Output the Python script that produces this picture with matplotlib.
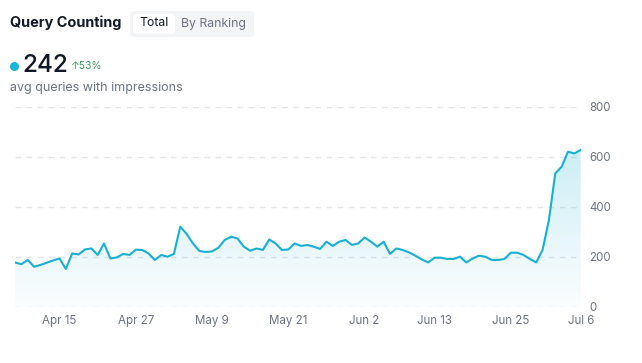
import numpy as np
import pandas as pd
import matplotlib
matplotlib.use('Agg')
import matplotlib.pyplot as plt
import matplotlib.dates as mdates
from matplotlib.colors import LinearSegmentedColormap
from matplotlib.patches import FancyBboxPatch
from matplotlib.lines import Line2D

# daily "avg queries with impressions", Apr 8 -> Jul 6
queries = [177, 170, 187, 160, 167, 176, 185, 193, 151, 213,
           209, 229, 233, 207, 253, 193, 197, 211, 207, 228,
           227, 213, 187, 207, 200, 211, 320, 291, 253, 223,
           219, 221, 236, 267, 280, 273, 240, 224, 233, 227,
           269, 253, 227, 229, 253, 243, 247, 240, 231, 260,
           243, 260, 267, 247, 253, 277, 260, 240, 260, 211,
           233, 227, 217, 204, 189, 177, 196, 196, 191, 191,
           200, 177, 193, 204, 200, 187, 187, 191, 216, 216,
           207, 191, 177, 227, 347, 533, 560, 620, 613, 627]
dates = pd.date_range('2024-04-08', periods=len(queries), freq='D')

tick_dates = ['2024-04-15', '2024-04-27', '2024-05-09', '2024-05-21',
              '2024-06-02', '2024-06-13', '2024-06-25', '2024-07-06']
tick_labels = ['Apr 15', 'Apr 27', 'May 9', 'May 21', 'Jun 2', 'Jun 13', 'Jun 25', 'Jul 6']
y_ticks = [0, 200, 400, 600, 800]

LINE = '#18b0d2'
GRAY = '#6b7280'
W, H = 642, 363

plt.rcParams['font.family'] = ['Inter', 'DejaVu Sans']

fig = plt.figure(figsize=(W / 100, H / 100), dpi=100)


def px(x, y):
    return x / W, 1 - y / H


ax = fig.add_axes([15 / W, (H - 306.7) / H, 565.7 / W, 200 / H])
ax.plot(dates, queries, color=LINE, lw=1.5, zorder=3, solid_joinstyle='round')

# gradient area under the line
poly = ax.fill_between(dates, queries, 0, color='none', lw=0)
cmap = LinearSegmentedColormap.from_list(
    'fade', [(0.09, 0.69, 0.82, 0.02), (0.09, 0.69, 0.82, 0.27)])
x0, x1 = mdates.date2num(dates[0]), mdates.date2num(dates[-1])
im = ax.imshow(np.linspace(0, 1, 256).reshape(-1, 1), extent=[x0, x1, 0, 800],
               origin='lower', aspect='auto', cmap=cmap, zorder=2)
im.set_clip_path(poly.get_paths()[0], transform=ax.transData)

ax.set_xlim(x0, x1)
ax.set_ylim(0, 800)
ax.set_yticks(y_ticks)
ax.set_xticks(pd.to_datetime(tick_dates))
ax.set_xticklabels(tick_labels)
ax.yaxis.tick_right()
ax.tick_params(axis='both', length=0, labelsize=8.3, labelcolor=GRAY)
ax.tick_params(axis='y', pad=6)
ax.tick_params(axis='x', pad=6)
ax.grid(axis='y', color='#e3e5e8', linestyle=(0, (4, 4)), lw=1)
ax.set_axisbelow(True)
for s in ax.spines.values():
    s.set_visible(False)

# header
fig.text(*px(9.5, 23), 'Query Counting', fontsize=10.4, fontweight='bold',
         color='#111827', va='center', ha='left')
fig.patches.append(FancyBboxPatch(px(130, 37), 124 / W, 26 / H,
                                  boxstyle='round,pad=0,rounding_size=0.008',
                                  transform=fig.transFigure, fc='#f3f4f6', ec='none'))
fig.patches.append(FancyBboxPatch(px(133, 33.5), 42 / W, 19.5 / H,
                                  boxstyle='round,pad=0,rounding_size=0.006',
                                  transform=fig.transFigure, fc='white', ec='none'))
fig.text(*px(154, 23.5), 'Total', fontsize=8.8, color='#111827', va='center', ha='center')
fig.text(*px(213, 23.5), 'By Ranking', fontsize=8.8, color=GRAY, va='center', ha='center')

# summary number
fig.add_artist(Line2D([14 / W], [1 - 66 / H], marker='o', markersize=5.5,
                      color='#1cb5d8', transform=fig.transFigure))
fig.text(*px(22.5, 65.5), '242', fontsize=17.5, fontweight='medium',
         color='#111827', va='center', ha='left')
fig.text(*px(70.5, 66), '↑53%', fontsize=7.5, color='#3b9a5e', va='center', ha='left')
fig.text(*px(10, 87.5), 'avg queries with impressions', fontsize=9,
         color=GRAY, va='center', ha='left')

fig.savefig('out.png', dpi=100)
